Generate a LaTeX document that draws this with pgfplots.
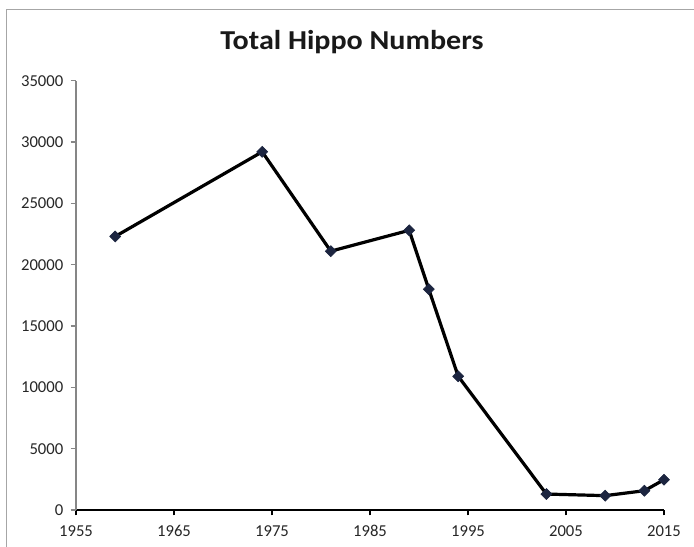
\documentclass[border=0pt]{standalone}
\usepackage{fontspec}
\setmainfont{Carlito}
\newfontfamily\tickfont{Carlito}
\newfontfamily\titlefont[FakeStretch=1.1]{Carlito}
\usepackage{pgfplots}
\pgfplotsset{compat=1.18}
\definecolor{mk}{HTML}{1C2540}
\definecolor{frame}{HTML}{A6A6A6}
\definecolor{yax}{HTML}{868686}
\begin{document}
\begin{tikzpicture}
\path[use as bounding box] (0,0) rectangle (520.5pt,410.25pt);
\draw[frame, line width=0.8pt] (5pt,0pt) -- (5pt,403.3pt) -- (520.5pt,403.3pt);
\begin{axis}[
  at={(57pt,27.75pt)}, anchor=south west,
  scale only axis, width=441pt, height=322pt,
  xmin=1955, xmax=2015, ymin=0, ymax=35000,
  xtick={1955,1965,...,2015}, ytick={0,5000,...,35000},
  axis lines*=left,
  x axis line style={black, line width=1.5pt},
  y axis line style={yax, line width=0.8pt},
  tick align=outside, major tick length=4pt,
  x tick style={black, line width=1pt},
  y tick style={yax, line width=0.8pt},
  scaled y ticks=false,
  /pgf/number format/1000 sep={},
  /pgf/number format/assume math mode=true,
  tick label style={font=\tickfont\fontsize{12.5}{14}\selectfont, text=black!85},
  xticklabel style={text height=8pt, text depth=0pt, yshift=-4.5pt},
  yticklabel style={xshift=-2pt},
  clip=false,
]
\addplot[black, line width=2.4pt, mark=square*, mark size=2.9pt,
  mark options={rotate=45, fill=mk, draw=mk, line width=0.5pt}]
coordinates {
(1959,22300)
(1974,29200)
(1981,21100)
(1989,22800)
(1991,18000)
(1994,10900)
(2003,1300)
(2009,1170)
(2013,1570)
(2015,2470)
};
\end{axis}
\node[font=\titlefont\bfseries\fontsize{20.5}{24}\selectfont, text=black!90] at (264pt,378.75pt) {Total Hippo Numbers};
\end{tikzpicture}
\end{document}
